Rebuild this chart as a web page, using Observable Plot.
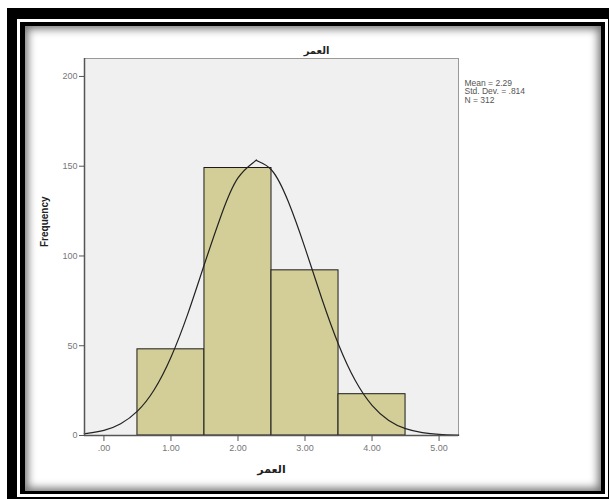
<!DOCTYPE html>
<html><head><meta charset="utf-8">
<script src="https://cdn.jsdelivr.net/npm/d3@7"></script>
<script src="https://cdn.jsdelivr.net/npm/@observablehq/plot@0.6"></script>
<style>
body{margin:0;width:611px;height:499px;overflow:hidden;background:#fff;position:relative;font-family:Arial,"Liberation Sans",sans-serif}
.b{position:absolute}
#f1{left:7px;top:8px;width:602px;height:491px;background:#000}
#f2{left:17px;top:19px;width:591px;height:478px;background:#fff}
#f3{left:20px;top:22px;width:585px;height:472px;background:#000}
#f4{left:25px;top:26px;width:576px;height:465px;background:#fff;box-shadow:inset 0 0 9px 3px rgba(0,0,0,0.55)}
#chart{position:absolute;left:0;top:0}
</style></head>
<body>
<div class="b" id="f1"></div><div class="b" id="f2"></div><div class="b" id="f3"></div><div class="b" id="f4"></div>
<div id="chart"></div>
<script>
const title = "العمر";
const xLabel = "العمر";
const yLabel = "Frequency";
const statsLines = ["Mean = 2.29", "Std. Dev. = .814", "N = 312"];
const binStarts = [0.5, 1.5, 2.5, 3.5];
const binEnds = [1.5, 2.5, 3.5, 4.5];
const counts = [48, 149, 92, 23];
const curveX = [-0.29, -0.25, 0, 0.25, 0.5, 0.75, 1.0, 1.25, 1.5, 1.75, 2.0, 2.25, 2.29, 2.5, 2.75, 3.0, 3.25, 3.5, 3.75, 4.0, 4.25, 4.5, 4.75, 5.0, 5.25, 5.29];
const curveY = [1.0, 1.2, 2.9, 6.6, 13.6, 25.5, 43.6, 67.6, 95.5, 122.7, 143.5, 152.7, 152.9, 147.9, 130.3, 104.5, 76.3, 50.7, 30.6, 16.8, 8.4, 3.8, 1.6, 0.6, 0.2, 0.2];
const xTicks = [0, 1, 2, 3, 4, 5];
const xTickLabels = [".00", "1.00", "2.00", "3.00", "4.00", "5.00"];
const yTicks = [0, 50, 100, 150, 200];
const xMin = -0.29, xMax = 5.29, yMax = 210;

const bins = counts.map((c, i) => ({x1: binStarts[i], x2: binEnds[i], count: c}));
const curve = curveX.map((x, i) => ({x, y: curveY[i]}));

const chart = Plot.plot({
  width: 611, height: 499,
  marginLeft: 84, marginRight: 153, marginTop: 58, marginBottom: 64,
  style: {background: "transparent", fontFamily: "Arial, 'Liberation Sans', sans-serif", fontSize: "9px", overflow: "visible"},
  x: {domain: [xMin, xMax]},
  y: {domain: [0, yMax]},
  marks: [
    Plot.frame({fill: "#f0f0f0", stroke: "#999"}),
    Plot.rectY(bins, {x1: "x1", x2: "x2", y: "count", fill: "#d3ce97", stroke: "#1a1a1a", strokeWidth: 1}),
    Plot.line(curve, {x: "x", y: "y", curve: "natural", stroke: "#222", strokeWidth: 1.2}),
    Plot.ruleX([xMin], {stroke: "#555", strokeWidth: 1.5}),
    Plot.ruleY([0], {stroke: "#555", strokeWidth: 1.5}),
    Plot.axisX(xTicks, {tickSize: 6, tickPadding: 3, stroke: "#555", fill: "#777", tickFormat: (d, i) => xTickLabels[xTicks.indexOf(d)], label: null}),
    Plot.axisY(yTicks, {tickSize: 5, tickPadding: 2, stroke: "#555", fill: "#777", label: null}),
    Plot.text([title], {frameAnchor: "top", dx: 45, dy: -12, fontFamily: "DejaVu Sans", fontSize: 10, fontWeight: "bold", fill: "#222"}),
    Plot.text([xLabel], {frameAnchor: "bottom", dy: 37, fontFamily: "DejaVu Sans", fontSize: 11, fontWeight: "bold", fill: "#222"}),
    Plot.text([yLabel], {frameAnchor: "left", dx: -40, rotate: -90, fontSize: 10, fontWeight: "bold", fill: "#222"}),
    Plot.text([statsLines.join("\n")], {frameAnchor: "top-right", dx: 6, dy: 21, textAnchor: "start", lineAnchor: "top", lineHeight: 1.0, fontSize: 8.5, fill: "#555"})
  ]
});
document.getElementById("chart").appendChild(chart);
</script>
</body></html>
